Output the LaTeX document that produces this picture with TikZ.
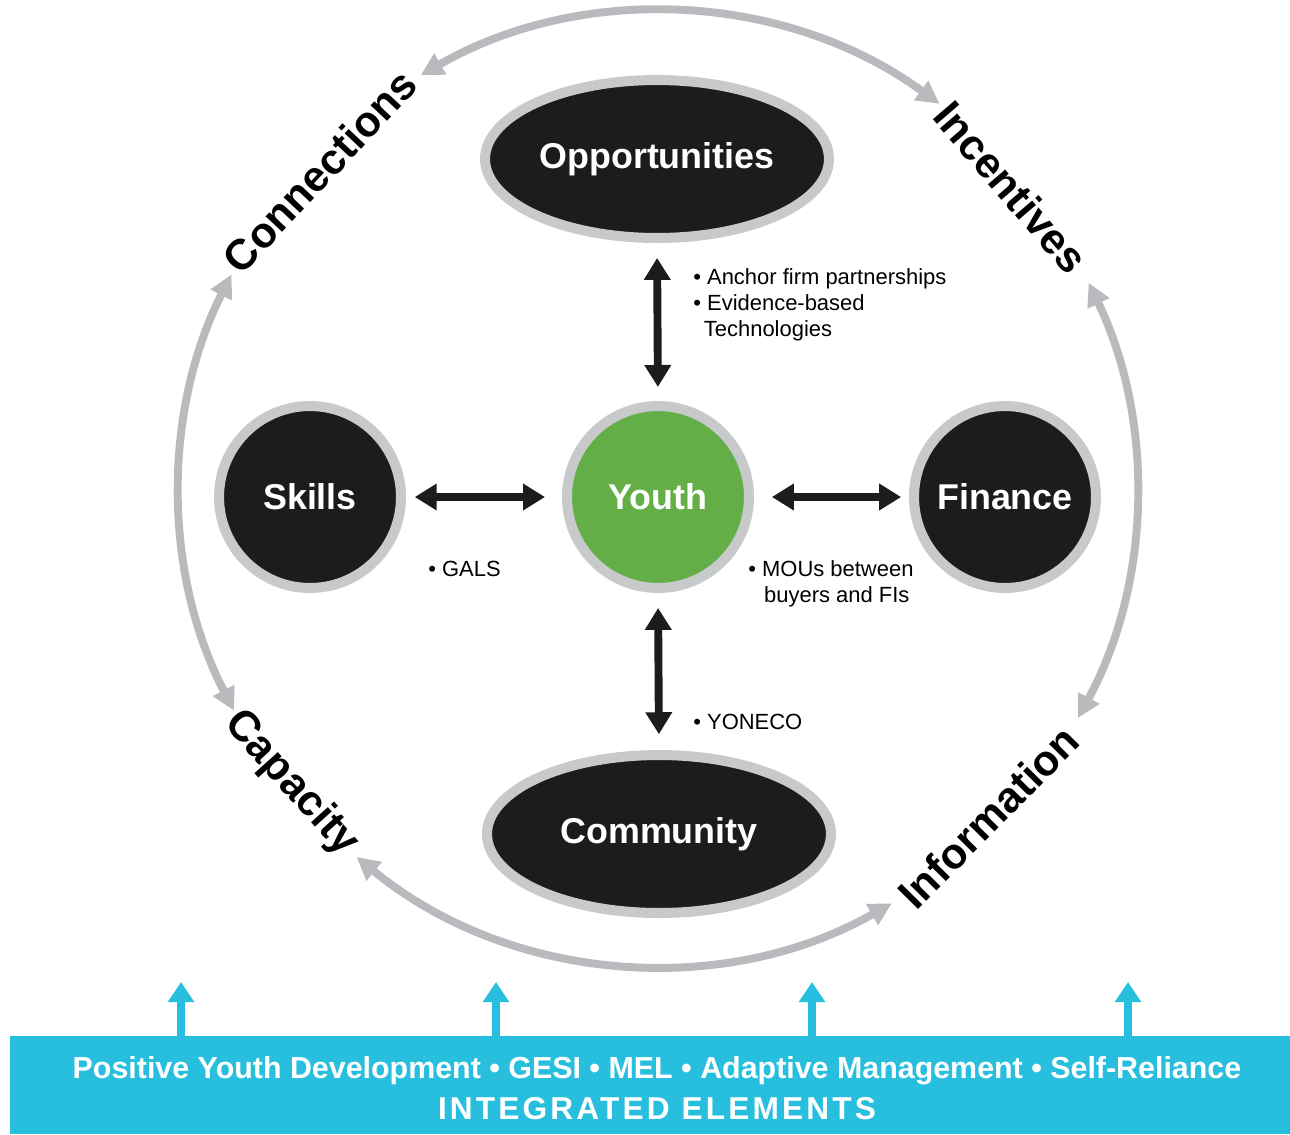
\documentclass[tikz,border=0pt]{standalone}
\usepackage{fontspec}
\setmainfont{Liberation Sans}
\usetikzlibrary{arrows.meta,shapes.geometric}
\definecolor{nodeblack}{HTML}{1C1C1C}
\definecolor{ringgray}{HTML}{C8C9CB}
\definecolor{youthgreen}{HTML}{63AE46}
\definecolor{barcyan}{HTML}{27BFDD}
\definecolor{arcgray}{HTML}{B9BABE}
\begin{document}
\begin{tikzpicture}[x=0.02cm,y=-0.02cm,
  bigfont/.style={font=\fontsize{20.4}{24}\selectfont\bfseries},
  ovalnode/.style={ellipse, fill=nodeblack, draw=ringgray, line width=5.7pt, inner sep=0pt,
    minimum width=6.88cm, minimum height=3.16cm, text=white, bigfont},
  roundnode/.style={circle, fill=nodeblack, draw=ringgray, line width=5.7pt, inner sep=0pt,
    minimum size=3.64cm, text=white, bigfont},
  arclabel/.style={inner sep=0pt, font=\fontsize{24.4}{28}\selectfont\bfseries},
  bullettext/.style={inner sep=0pt, align=left, font=\fontsize{12.5}{14.8}\selectfont},
  blackarrow/.style={{Triangle[length=12.5pt,width=14.5pt]}-{Triangle[length=12.5pt,width=14.5pt]},
    line width=4.5pt, draw=nodeblack},
  grayarrow/.style={{Triangle[length=13pt,width=13pt]}-{Triangle[length=13pt,width=13pt]},
    line width=4.5pt, draw=arcgray},
  cyanarrow/.style={-{Triangle[length=11.5pt,width=14.5pt]}, line width=4.5pt, draw=barcyan},
]
\useasboundingbox (0,0) rectangle (1290,1134);
\fill[white] (0,0) rectangle (1290,1134);

\coordinate (C) at (658,490);

% outer cycle arcs
\path (C) ++(119.8:9.56cm) coordinate (topS);
\draw[grayarrow] (topS) arc[start angle=119.8, end angle=53.9, radius=9.56cm];
\path (C) ++(153.2:9.56cm) coordinate (leftS);
\draw[grayarrow] (leftS) arc[start angle=153.2, end angle=207.5, radius=9.56cm];
\path (C) ++(25.7:9.56cm) coordinate (rightS);
\draw[grayarrow] (rightS) arc[start angle=25.7, end angle=-28.5, radius=9.56cm];
\path (C) ++(230.6:9.5cm) coordinate (botS);
\draw[grayarrow] (botS) arc[start angle=230.6, end angle=299.5, radius=9.5cm];

% arc labels
\path (C) ++(136.7:9.3cm) node[arclabel, rotate=46.7] (conn) {Connections};
\path (C) ++(40.6:9.3cm) node[arclabel, rotate=-49.4] (inc) {Incentives};
\path (C) ++(-44.7:9.3cm) node[arclabel, rotate=45.3] (info) {Information};
\path (C) ++(218.7:9.4cm) node[arclabel, rotate=-48] (cap) {Capacity};

% main nodes
\node[ovalnode] (opp) at (657,159) {Opportunities};
\node[ovalnode] (comm) at (659,834) {Community};
\node[roundnode] (skills) at (310,497) {Skills};
\node[roundnode, fill=youthgreen] (youth) at (658,497) {Youth};
\node[roundnode] (fin) at (1005,497) {Finance};

% connectors
\draw[blackarrow, shorten <=8.5pt, shorten >=8pt] (opp.south) -- (youth.north);
\draw[blackarrow, shorten <=5pt, shorten >=9.7pt] (skills.east) -- (youth.west);
\draw[blackarrow, shorten <=10.2pt, shorten >=4.5pt] (youth.east) -- (fin.west);
\draw[blackarrow, shorten <=8.5pt, shorten >=9pt] (youth.south) -- (comm.north);

% annotations
\node[bullettext, anchor=north west] (t1) at (693,268)
  {• Anchor firm partnerships\\• Evidence-based\\\hspace*{6pt}Technologies};
\node[bullettext, anchor=base west] (t2) at (428,576) {• GALS};
\node[bullettext, anchor=north west] (t3) at (748,560) {• MOUs between\\\hspace*{9pt}buyers and FIs};
\node[bullettext, anchor=base west] (t4) at (693,729) {• YONECO};

% bottom bar
\node[rectangle, fill=barcyan, inner sep=0pt, outer sep=0pt, minimum width=25.6cm, minimum height=1.96cm] (bar) at (650,1085) {};
\node[inner sep=0pt, anchor=base, text=white, font=\fontsize{17.3}{20}\selectfont\bfseries] (bt1) at (657,1078)
  {Positive Youth Development • GESI • MEL • Adaptive Management • Self-Reliance};
\node[inner sep=0pt, anchor=base, text=white, font=\fontsize{18}{21}\selectfont\bfseries\addfontfeature{LetterSpace=10}] (bt2) at (657,1119)
  {INTEGRATED ELEMENTS};

\coordinate (u1) at (181,982);
\coordinate (u2) at (496,982);
\coordinate (u3) at (812,982);
\coordinate (u4) at (1128,982);
\foreach \u in {u1,u2,u3,u4}
  \draw[cyanarrow] (\u |- bar.north) -- (\u);
\end{tikzpicture}
\end{document}
